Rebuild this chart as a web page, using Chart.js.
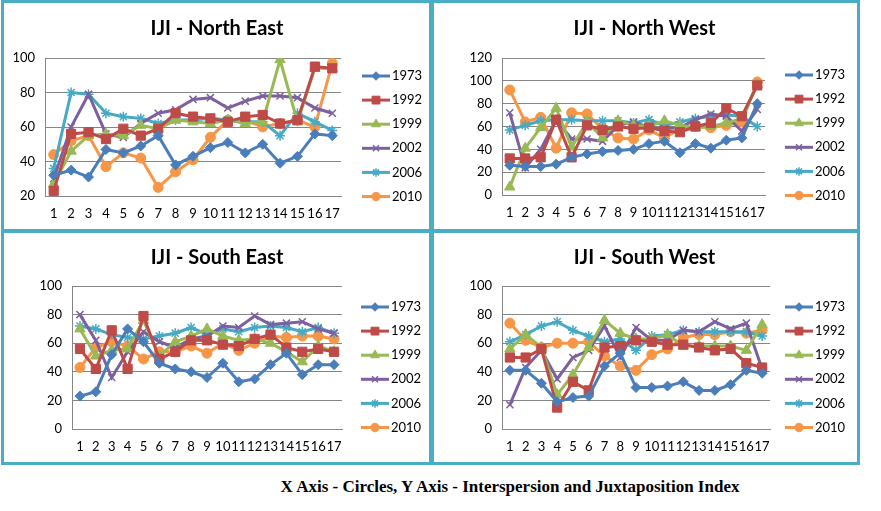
<!DOCTYPE html>
<html>
<head>
<meta charset="utf-8">
<script src="https://cdn.jsdelivr.net/npm/chart.js@4.4.1/dist/chart.umd.min.js"></script>
<style>
body { margin: 0; background: #fff; width: 881px; height: 511px; position: relative; overflow: hidden; }
.frame { position: absolute; border: 3px solid #4BACC6; box-sizing: border-box; }
canvas { position: absolute; }
#caption { position: absolute; left: 210px; top: 477px; width: 600px; text-align: center;
  font: bold 17px "Liberation Serif", serif; color: #000; }
</style>
</head>
<body>
<div class="frame" style="left:1px;top:0;width:433px;height:233px"></div>
<div class="frame" style="left:429px;top:0;width:431px;height:233px"></div>
<div class="frame" style="left:1px;top:229px;width:433px;height:236px"></div>
<div class="frame" style="left:429px;top:229px;width:431px;height:236px"></div>
<canvas id="ne" width="426" height="227" style="left:4px;top:3px"></canvas>
<canvas id="nw" width="425" height="227" style="left:432px;top:3px"></canvas>
<canvas id="se" width="426" height="230" style="left:4px;top:232px"></canvas>
<canvas id="sw" width="425" height="230" style="left:432px;top:232px"></canvas>
<div id="caption">X Axis - Circles, Y Axis - Interspersion and Juxtaposition Index</div>
<script>
// circles 1..17 on the x axis, one series per year
var circles = ['1','2','3','4','5','6','7','8','9','10','11','12','13','14','15','16','17'];
var years = ['1973', '1992', '1999', '2002', '2006', '2010'];

// North East
var ne1973 = [32, 35, 31, 47, 45, 49, 55, 38, 43, 48, 51, 45, 50, 39, 43, 56, 55];
var ne1992 = [23, 56, 57, 53, 59, 55, 59, 68, 66, 65, 63, 66, 67, 62, 64, 95, 94];
var ne1999 = [27, 46, 55, 56, 55, 61, 59, 64, 63, 62, 64, 62, 63, 99, 63, 94, 94];
var ne2002 = [30, 60, 79, 56, 54, 62, 68, 70, 76, 77, 71, 75, 78, 78, 77, 71, 68];
var ne2006 = [36, 80, 79, 68, 66, 65, 62, 64, 64, 65, 64, 63, 63, 55, 68, 63, 58];
var ne2010 = [44, 52, 55, 37, 45, 42, 25, 34, 41, 54, 64, 64, 60, 62, 64, 60, 97];

// North West
var nw1973 = [26, 25, 25, 27, 33, 36, 38, 39, 40, 45, 47, 37, 45, 41, 48, 50, 80];
var nw1992 = [32, 32, 33, 66, 33, 61, 57, 60, 58, 59, 56, 55, 60, 63, 76, 69, 96];
var nw1999 = [7, 41, 59, 76, 42, 64, 50, 65, 61, 60, 65, 61, 59, 60, 63, 67, 97];
var nw2002 = [72, 24, 40, 66, 49, 49, 47, 61, 64, 59, 58, 59, 66, 71, 69, 56, 75];
var nw2006 = [57, 61, 65, 66, 66, 65, 65, 65, 63, 66, 61, 64, 67, 69, 70, 69, 60];
var nw2010 = [92, 64, 68, 41, 72, 71, 58, 50, 49, 57, 50, 58, 60, 59, 61, 64, 99];

// South East
var se1973 = [23, 26, 52, 70, 61, 46, 42, 40, 36, 46, 33, 35, 45, 53, 38, 45, 45];
var se1992 = [56, 42, 69, 42, 79, 49, 54, 62, 62, 59, 58, 63, 66, 57, 54, 56, 54];
var se1999 = [70, 51, 55, 56, 76, 51, 61, 65, 70, 65, 62, 63, 60, 54, 47, 58, 54];
var se2002 = [80, 62, 36, 54, 68, 61, 57, 63, 65, 72, 71, 79, 73, 74, 75, 70, 67];
var se2006 = [72, 70, 66, 64, 63, 65, 67, 71, 66, 70, 68, 71, 72, 71, 68, 71, 67];
var se2010 = [43, 57, 61, 58, 49, 54, 54, 58, 53, 60, 55, 60, 65, 64, 65, 65, 63];

// South West
var sw1973 = [41, 41, 32, 19, 22, 23, 44, 53, 29, 29, 30, 33, 27, 27, 31, 41, 39];
var sw1992 = [50, 50, 56, 15, 33, 27, 57, 58, 62, 61, 59, 59, 57, 55, 56, 46, 43];
var sw1999 = [56, 66, 57, 24, 38, 57, 76, 67, 63, 63, 66, 58, 58, 58, 58, 55, 73];
var sw2002 = [17, 43, 55, 35, 50, 55, 72, 50, 71, 62, 62, 69, 68, 75, 70, 74, 42];
var sw2006 = [61, 66, 72, 75, 69, 65, 61, 63, 55, 65, 66, 69, 68, 68, 68, 68, 65];
var sw2010 = [74, 62, 57, 60, 60, 61, 51, 44, 41, 52, 56, 64, 66, 66, 68, 67, 69];

var colors = ['#4A7EBB', '#BE4B48', '#98B954', '#7D60A0', '#46AAC5', '#F79646'];
var markers = ['rectRot', 'rect', 'triangle', 'crossRot', 'star', 'circle'];
var markerSize = [5, 6.5, 6, 5, 5, 5];
var gridGray = '#868686';

// legend drawn as line + marker + text to the right of the plot
var sideLegend = {
    id: 'sideLegend',
    afterDraw: function (chart, args, opts) {
        var ctx = chart.ctx;
        ctx.save();
        chart.data.datasets.forEach(function (ds, i) {
            var y = opts.y + i * 24.1;
            ctx.strokeStyle = ds.borderColor;
            ctx.lineWidth = 3;
            ctx.beginPath();
            ctx.moveTo(opts.x, y);
            ctx.lineTo(opts.x + 28, y);
            ctx.stroke();
            ctx.fillStyle = ds.pointBackgroundColor;
            ctx.lineWidth = ds.pointBorderWidth;
            if (Chart.helpers && Chart.helpers.drawPoint) {
                Chart.helpers.drawPoint(ctx, {
                    pointStyle: ds.pointStyle, rotation: 0,
                    radius: ds.pointRadius * 0.85, borderWidth: ds.pointBorderWidth
                }, opts.x + 14, y);
            }
            ctx.fillStyle = '#000';
            ctx.font = '13px Lato';
            ctx.textAlign = 'left';
            ctx.textBaseline = 'middle';
            ctx.fillText(ds.label, opts.x + 30, y);
        });
        ctx.restore();
    }
};

function drawPanel(id, title, series, yMin, yMax, box) {
    var canvas = document.getElementById(id);
    var W = canvas.width, H = canvas.height;
    var datasets = series.map(function (vals, i) {
        return {
            label: years[i],
            data: vals,
            borderColor: colors[i],
            backgroundColor: colors[i],
            pointBackgroundColor: colors[i],
            pointBorderColor: colors[i],
            pointStyle: markers[i],
            pointRadius: markerSize[i],
            pointBorderWidth: (i === 3 || i === 4) ? 1.5 : 1,
            borderWidth: 3,
            tension: 0,
            fill: false
        };
    });
    var tickFont = { family: 'Lato', size: 13 };
    new Chart(canvas, {
        type: 'line',
        data: { labels: circles, datasets: datasets },
        options: {
            responsive: false,
            animation: false,
            layout: { padding: 0 },
            plugins: {
                legend: { display: false },
                tooltip: { enabled: false },
                title: {
                    display: true,
                    text: title,
                    color: '#000',
                    font: { family: 'Lato', size: 20, weight: 'bold', lineHeight: 1.2 },
                    padding: { top: 14, bottom: box.top - 38 }
                },
                sideLegend: { x: box.legX, y: box.legY }
            },
            scales: {
                x: {
                    offset: true,
                    grid: { display: false, drawTicks: false },
                    border: { display: true, color: gridGray },
                    ticks: { font: tickFont, color: '#000', padding: 10, maxRotation: 0, autoSkip: false },
                    afterFit: function (s) { s.height = H - box.bottom; }
                },
                y: {
                    min: yMin,
                    max: yMax,
                    grid: { color: gridGray, drawTicks: false },
                    border: { display: true, color: gridGray },
                    ticks: { stepSize: 20, font: tickFont, color: '#000', padding: 10 },
                    afterFit: function (s) { s.width = box.left; }
                },
                y2: {
                    position: 'right',
                    grid: { display: false, drawTicks: false },
                    border: { display: false },
                    ticks: { display: false },
                    afterFit: function (s) { s.width = W - box.right; }
                }
            }
        },
        plugins: [sideLegend]
    });
}

drawPanel('ne', 'IJI - North East', [ne1973, ne1992, ne1999, ne2002, ne2006, ne2010], 20, 100,
    { left: 41, right: 337, top: 55, bottom: 193, legX: 358, legY: 73 });
drawPanel('nw', 'IJI - North West', [nw1973, nw1992, nw1999, nw2002, nw2006, nw2010], 0, 120,
    { left: 70, right: 333, top: 55, bottom: 192, legX: 353, legY: 72 });
drawPanel('se', 'IJI - South East', [se1973, se1992, se1999, se2002, se2006, se2010], 0, 100,
    { left: 68, right: 338, top: 54, bottom: 197, legX: 357, legY: 75 });
drawPanel('sw', 'IJI - South West', [sw1973, sw1992, sw1999, sw2002, sw2006, sw2010], 0, 100,
    { left: 70, right: 338, top: 54, bottom: 197, legX: 353, legY: 75 });
</script>
</body>
</html>
